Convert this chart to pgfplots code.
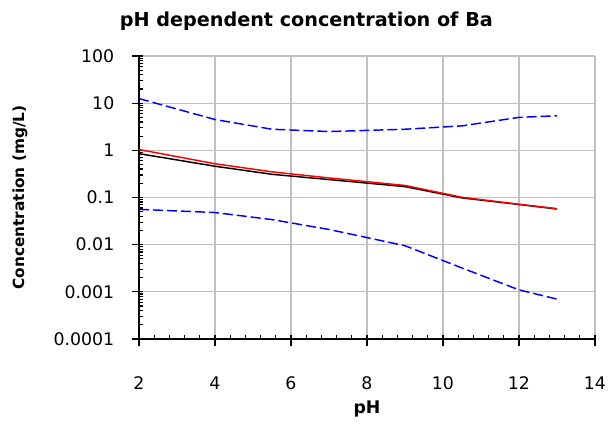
\documentclass[border=0pt]{standalone}
\usepackage{pgfplots}
\pgfplotsset{compat=1.18}
\usepackage{fontspec}
\setmainfont{DejaVu Sans}

\definecolor{gridgray}{RGB}{192,192,192}
\definecolor{dashblue}{RGB}{0,0,255}

\begin{document}
\begin{tikzpicture}
  \begin{axis}[
      scale only axis,
      width=342pt, height=212.25pt,
      xmin=2, xmax=14,
      ymode=log, ymin=1e-4, ymax=100,
      xtick={2,4,6,8,10,12,14},
      xticklabels={2,4,6,8,10,12,14},
      minor x tick num=4,
      ytick={1e-4,1e-3,1e-2,1e-1,1,10,100},
      yticklabels={0.0001,0.001,0.01,0.1,1,10,100},
      minor ytick={2e-4,3e-4,4e-4,5e-4,6e-4,7e-4,8e-4,9e-4,
                   2e-3,3e-3,4e-3,5e-3,6e-3,7e-3,8e-3,9e-3,
                   0.02,0.03,0.04,0.05,0.06,0.07,0.08,0.09,
                   0.2,0.3,0.4,0.5,0.6,0.7,0.8,0.9,
                   2,3,4,5,6,7,8,9,
                   20,30,40,50,60,70,80,90},
      /pgf/number format/assume math mode=true,
      axis x line*=bottom, axis y line*=left,
      axis line style={-, black, line width=1pt},
      grid=major,
      major grid style={gridgray, line width=0.8pt},
      minor grid style={draw=none},
      tick align=inside,
      major tick length=8.25pt,
      minor tick length=3pt,
      tick style={black, line width=0.9pt},
      major y tick style={xshift=-5.25pt},
      major x tick style={yshift=-5.25pt},
      ticklabel style={font=\fontsize{13}{15}\selectfont},
      xticklabel style={anchor=center, yshift=-33pt},
      yticklabel style={anchor=east, xshift=-15pt},
      title={pH dependent concentration of Ba},
      title style={at={(axis description cs:0.367,1.095)}, anchor=center,
        font=\bfseries\fontsize{14.4}{17}\selectfont},
      xlabel={pH},
      xlabel style={at={(axis description cs:0.5,0)}, anchor=center, yshift=-52.5pt,
        font=\bfseries\fontsize{13}{15}\selectfont},
      ylabel={Concentration (mg/L)},
      ylabel style={at={(axis description cs:-0.261,0.5)}, anchor=center,
        font=\bfseries\fontsize{11.5}{14}\selectfont},
      clip=false,
    ]

    % upper bound
    \addplot[dashblue, line width=1.1pt, dash pattern=on 7.5pt off 3pt] coordinates {
      (2,12.5) (4,4.5) (5.5,2.8) (7,2.5) (9,2.8) (10.5,3.3) (12,5.0) (13,5.4)
    };
    % lower bound
    \addplot[dashblue, line width=1.1pt, dash pattern=on 7.5pt off 3pt] coordinates {
      (2,0.056) (4,0.048) (5.5,0.034) (7,0.021) (9,0.0095) (10.5,0.0032) (12,0.0011) (13,0.0007)
    };
    % black
    \addplot[black, line width=1.1pt] coordinates {
      (2,0.85) (4,0.46) (5.5,0.31) (7,0.24) (9,0.17) (10.5,0.098) (12,0.071) (13,0.057)
    };
    % red
    \addplot[red, line width=1.1pt] coordinates {
      (2,1.04) (4,0.52) (5.5,0.35) (7,0.26) (9,0.18) (10.5,0.101) (12,0.072) (13,0.058)
    };

    \coordinate (sw) at (rel axis cs:0,0);
  \end{axis}
  \pgfresetboundingbox
  \path[use as bounding box] ([xshift=-104.25pt,yshift=-66pt]sw) rectangle ([xshift=351.75pt,yshift=254.25pt]sw);
\end{tikzpicture}
\end{document}
